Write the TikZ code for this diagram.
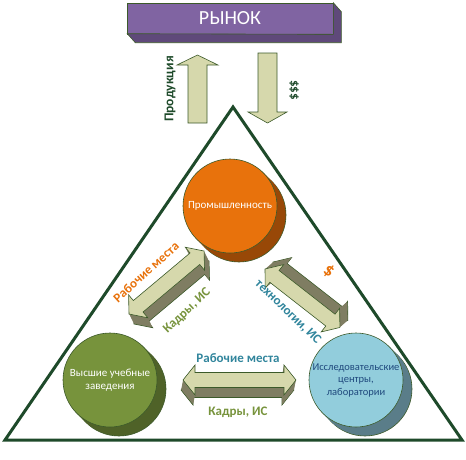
\documentclass[tikz,border=0pt]{standalone}
\usepackage{fontspec}
\setmainfont{Carlito}
\definecolor{dkgreen}{HTML}{1E4A2A}
\definecolor{edgegreen}{HTML}{3C5A2A}
\definecolor{arrlightc}{HTML}{D6D8AC}
\definecolor{arrdarkc}{HTML}{7F7D62}
\definecolor{purplef}{HTML}{8064A2}
\definecolor{purpled}{HTML}{5F497A}
\definecolor{orangef}{HTML}{E8720C}
\definecolor{oranged}{HTML}{984807}
\definecolor{greenf}{HTML}{77933C}
\definecolor{greend}{HTML}{4F6228}
\definecolor{bluef}{HTML}{92CDDC}
\definecolor{blued}{HTML}{5A7D89}
\definecolor{txtblue}{HTML}{31859C}
\definecolor{txtdblue}{HTML}{1F497D}
\definecolor{txtorange}{HTML}{E8720C}
\tikzset{
  lbl/.style={font=\fontsize{13}{13}\selectfont\bfseries, inner sep=0pt},
  ctext/.style={font=\fontsize{11}{13.5}\selectfont, align=center, inner sep=0pt},
  arrlight/.style={fill=arrlightc, draw=edgegreen, line width=0.6pt, line join=miter},
  arrdark/.style={fill=arrdarkc, draw=edgegreen, line width=0.6pt, line join=miter},
  arrdarkfill/.style={fill=arrdarkc},
  tri/.style={draw=dkgreen, line width=3pt, line join=miter},
}
% 3D double arrow: #1,#2 start tip, #3 angle, #4 length, #5,#6 extrusion
\newcommand\tdarrow[6]{%
  \begin{scope}[shift={(#5,#6)}]
    \begin{scope}[shift={(#1,#2)},rotate=#3]
      \path[arrdark] (0,0) -- (12,15) -- (12,7.5) -- ({#4-12},7.5) -- ({#4-12},15) -- (#4,0) -- ({#4-12},-15) -- ({#4-12},-7.5) -- (12,-7.5) -- (12,-15) -- cycle;
    \end{scope}
  \end{scope}
  \foreach \k in {1,...,11}{%
    \begin{scope}[shift={({#5*\k/12},{#6*\k/12})}]
      \begin{scope}[shift={(#1,#2)},rotate=#3]
        \path[arrdarkfill] (0,0) -- (12,15) -- (12,7.5) -- ({#4-12},7.5) -- ({#4-12},15) -- (#4,0) -- ({#4-12},-15) -- ({#4-12},-7.5) -- (12,-7.5) -- (12,-15) -- cycle;
      \end{scope}
    \end{scope}}
  \begin{scope}[shift={(#1,#2)},rotate=#3]
    \path[arrlight] (0,0) -- (12,15) -- (12,7.5) -- ({#4-12},7.5) -- ({#4-12},15) -- (#4,0) -- ({#4-12},-15) -- ({#4-12},-7.5) -- (12,-7.5) -- (12,-15) -- cycle;
  \end{scope}}
% cylinder shadow: #1,#2 centre, #3 colour
\newcommand\cylshadow[3]{%
  \filldraw[fill=#3, draw=edgegreen, line width=0.6pt] ({#1+9},{#2+9}) circle (47);
  \foreach \k in {1,...,8}{\fill[#3] ({#1+\k},{#2+\k}) circle (47);}}
\begin{document}
\begin{tikzpicture}[x=1pt,y=-1pt]
\useasboundingbox (0,0) rectangle (466,459);
% market box
\node[draw=edgegreen, line width=0.6pt, fill=purplef, minimum width=206pt, minimum height=31pt, inner sep=0pt,
      text=white, font=\fontsize{20}{20}\selectfont] (market) at (230,18.5) {РЫНОК};
\filldraw[fill=purpled, draw=edgegreen, line width=0.6pt, line join=miter]
  (market.north east) -- ++(8,9) -- ++(0,31) -- ++(-206,0) -- ++(-8,-9) -- (market.south east) -- cycle;
% top arrows
\path[arrlight] (197.5,55) -- (218,65) -- (207,65) -- (207,123) -- (188,123) -- (188,65) -- (177,65) -- cycle;
\path[arrlight] (258,53) -- (277,53) -- (277,112) -- (287,112) -- (267.5,123) -- (248,112) -- (258,112) -- cycle;
\node[lbl, text=dkgreen, rotate=90, font=\fontsize{13.5}{13.5}\selectfont\bfseries] (prod) at (170,89) {Продукция};
\node[lbl, text=dkgreen, rotate=-90] (dollars) at (294,90) {\$\$\$};
% triangle
\draw[tri] (233,107) -- (462,440) -- (5,440) -- cycle;
% circles
\cylshadow{230}{206}{oranged}
\node[circle, minimum size=94pt, inner sep=0pt, fill=orangef, draw=edgegreen, line width=0.6pt] (ind) at (230,206) {};
\node[ctext, text=white] (indt) at (ind.center) {Промышленность};
\cylshadow{110}{380}{greend}
\node[circle, minimum size=94pt, inner sep=0pt, fill=greenf, draw=edgegreen, line width=0.6pt] (uni) at (110,380) {};
\node[ctext, text=white] (unit) at (uni.center) {Высшие учебные\\заведения};
\cylshadow{356}{380}{blued}
\node[circle, minimum size=94pt, inner sep=0pt, fill=bluef, draw=edgegreen, line width=0.6pt] (lab) at (356,380) {};
\node[ctext, text=txtdblue, font=\fontsize{10.5}{12.5}\selectfont] (labt) at (lab.center) {Исследовательские\\центры,\\лаборатории};
% double arrows
\tdarrow{129}{314}{40}{98}{5}{10}
\tdarrow{265}{269}{-38}{95}{8}{-7}
\tdarrow{183}{380}{0}{113}{-2}{10}
% labels
\node[lbl, text=txtorange, rotate=42] (rm1) at (146,272) {Рабочие места};
\node[lbl, text=greenf, rotate=43] (k1) at (187,311) {Кадры, ИС};
\node[text=txtorange, rotate=-35, inner sep=0pt, font=\fontsize{18}{18}\selectfont\bfseries] (dol) at (329,271) {\$};
\node[lbl, text=txtblue, rotate=-44] (tech) at (288,312) {технологии, ИС};
\node[lbl, text=txtblue] (rm2) at (238,358) {Рабочие места};
\node[lbl, text=greenf] (k2) at (238,412) {Кадры, ИС};
\end{tikzpicture}
\end{document}
